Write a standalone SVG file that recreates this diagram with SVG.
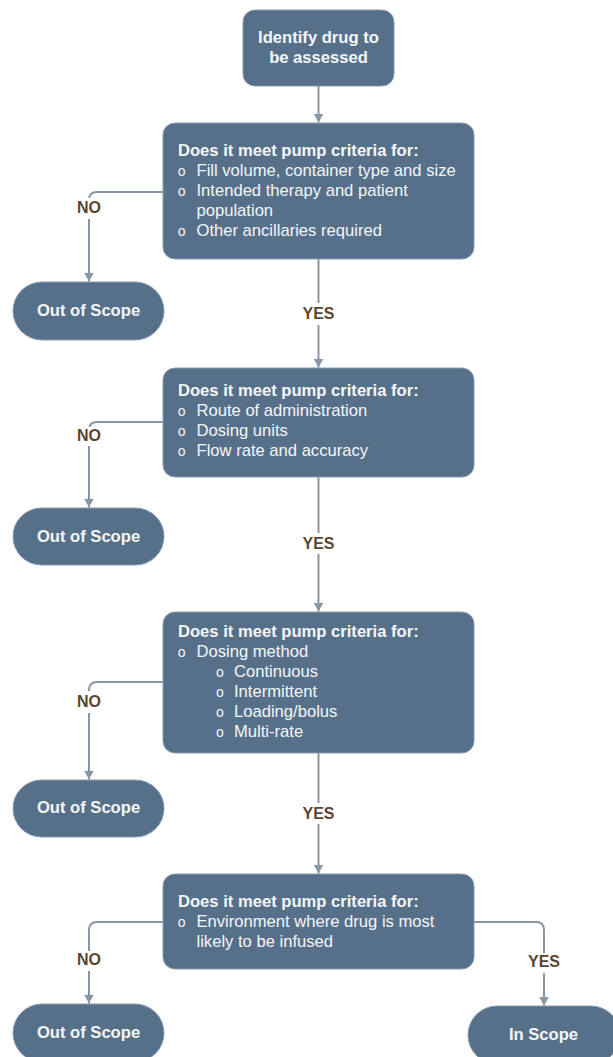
<svg xmlns="http://www.w3.org/2000/svg" width="613" height="1057" viewBox="0 0 613 1057">
<defs>
<marker id="arr" markerUnits="userSpaceOnUse" markerWidth="10" markerHeight="10" refX="9" refY="5" orient="auto">
<path d="M0,0 L9,5 L0,10 z" fill="#8797a8"/>
</marker>
<style>
.box{fill:#57708a;stroke:#8a9bb0;stroke-width:1}
.t{font-family:"Liberation Sans",Arial,sans-serif;font-size:16.6px;fill:#f4f6f8}
.b{font-weight:bold}
.c{text-anchor:middle}
.o{font-family:"Liberation Sans",Arial,sans-serif;font-size:14px;fill:#f4f6f8;text-anchor:middle}
.ln{fill:none;stroke:#8797a8;stroke-width:2;marker-end:url(#arr)}
.lb{font-family:"Liberation Sans",Arial,sans-serif;font-size:16px;font-weight:bold;fill:#5c4630;text-anchor:middle}
.bg{fill:#ffffff}
</style>
</defs>
<rect width="613" height="1057" fill="#ffffff"/>

<g id="connectors">
<path class="ln" d="M318.5,86 V122.5"/>
<path class="ln" d="M318.5,259 V367.5"/>
<path class="ln" d="M318.5,477 V611.5"/>
<path class="ln" d="M318.5,753 V873.5"/>
<path class="ln" d="M163,192 H97 Q89,192 89,200 V281.5"/>
<path class="ln" d="M163,422 H97 Q89,422 89,430 V507.5"/>
<path class="ln" d="M163,682 H97 Q89,682 89,690 V779.5"/>
<path class="ln" d="M163,922 H97 Q89,922 89,930 V1003.5"/>
<path class="ln" d="M474,922 H536 Q544,922 544,930 V1005.5"/>
<rect class="bg" x="72" y="198" width="34" height="21"/>
<text class="lb" x="89" y="213">NO</text>
<rect class="bg" x="296" y="303" width="45" height="22"/>
<text class="lb" x="318.5" y="319">YES</text>
<rect class="bg" x="72" y="427" width="34" height="19"/>
<text class="lb" x="89" y="441">NO</text>
<rect class="bg" x="296" y="533" width="45" height="21"/>
<text class="lb" x="318.5" y="549">YES</text>
<rect class="bg" x="72" y="691" width="34" height="22"/>
<text class="lb" x="89" y="707">NO</text>
<rect class="bg" x="296" y="803" width="45" height="21"/>
<text class="lb" x="318.5" y="819">YES</text>
<rect class="bg" x="72" y="951" width="34" height="20"/>
<text class="lb" x="89" y="965">NO</text>
<rect class="bg" x="522" y="953" width="45" height="20"/>
<text class="lb" x="544" y="967">YES</text>
</g>

<g id="start">
<rect class="box" x="243" y="10" width="151" height="76" rx="12"/>
<text class="t b c" x="318.5" y="43">Identify drug to</text>
<text class="t b c" x="318.5" y="63">be assessed</text>
</g>

<g id="q1">
<rect class="box" x="163" y="123" width="311" height="136" rx="12"/>
<text class="t b" x="178" y="156">Does it meet pump criteria for:</text>
<text class="o" x="181.7" y="176">o</text>
<text class="t" x="196.5" y="176">Fill volume, container type and size</text>
<text class="o" x="181.7" y="196">o</text>
<text class="t" x="196.5" y="196">Intended therapy and patient</text>
<text class="t" x="196.5" y="216">population</text>
<text class="o" x="181.7" y="236">o</text>
<text class="t" x="196.5" y="236">Other ancillaries required</text>
</g>

<g id="out1">
<rect class="box" x="13" y="282" width="151" height="58" rx="29"/>
<text class="t b c" x="88.5" y="316">Out of Scope</text>
</g>

<g id="q2">
<rect class="box" x="163" y="368" width="311" height="109" rx="12"/>
<text class="t b" x="178" y="396">Does it meet pump criteria for:</text>
<text class="o" x="181.7" y="416">o</text>
<text class="t" x="196.5" y="416">Route of administration</text>
<text class="o" x="181.7" y="436">o</text>
<text class="t" x="196.5" y="436">Dosing units</text>
<text class="o" x="181.7" y="456">o</text>
<text class="t" x="196.5" y="456">Flow rate and accuracy</text>
</g>

<g id="out2">
<rect class="box" x="13" y="508" width="151" height="57" rx="28.5"/>
<text class="t b c" x="88.5" y="542">Out of Scope</text>
</g>

<g id="q3">
<rect class="box" x="163" y="612" width="311" height="141" rx="12"/>
<text class="t b" x="178" y="637">Does it meet pump criteria for:</text>
<text class="o" x="181.7" y="657">o</text>
<text class="t" x="196.5" y="657">Dosing method</text>
<text class="o" x="220" y="677">o</text>
<text class="t" x="234" y="677">Continuous</text>
<text class="o" x="220" y="697">o</text>
<text class="t" x="234" y="697">Intermittent</text>
<text class="o" x="220" y="717">o</text>
<text class="t" x="234" y="717">Loading/bolus</text>
<text class="o" x="220" y="737">o</text>
<text class="t" x="234" y="737">Multi-rate</text>
</g>

<g id="out3">
<rect class="box" x="13" y="780" width="151" height="57" rx="28.5"/>
<text class="t b c" x="88.5" y="813">Out of Scope</text>
</g>

<g id="q4">
<rect class="box" x="163" y="874" width="311" height="95" rx="12"/>
<text class="t b" x="178" y="907">Does it meet pump criteria for:</text>
<text class="o" x="181.7" y="927">o</text>
<text class="t" x="196.5" y="927">Environment where drug is most</text>
<text class="t" x="196.5" y="947">likely to be infused</text>
</g>

<g id="out4">
<rect class="box" x="13" y="1004" width="151" height="58" rx="29"/>
<text class="t b c" x="88.5" y="1038">Out of Scope</text>
</g>

<g id="inscope">
<rect class="box" x="468" y="1006" width="152" height="58" rx="29"/>
<text class="t b c" x="543.5" y="1040">In Scope</text>
</g>
</svg>
